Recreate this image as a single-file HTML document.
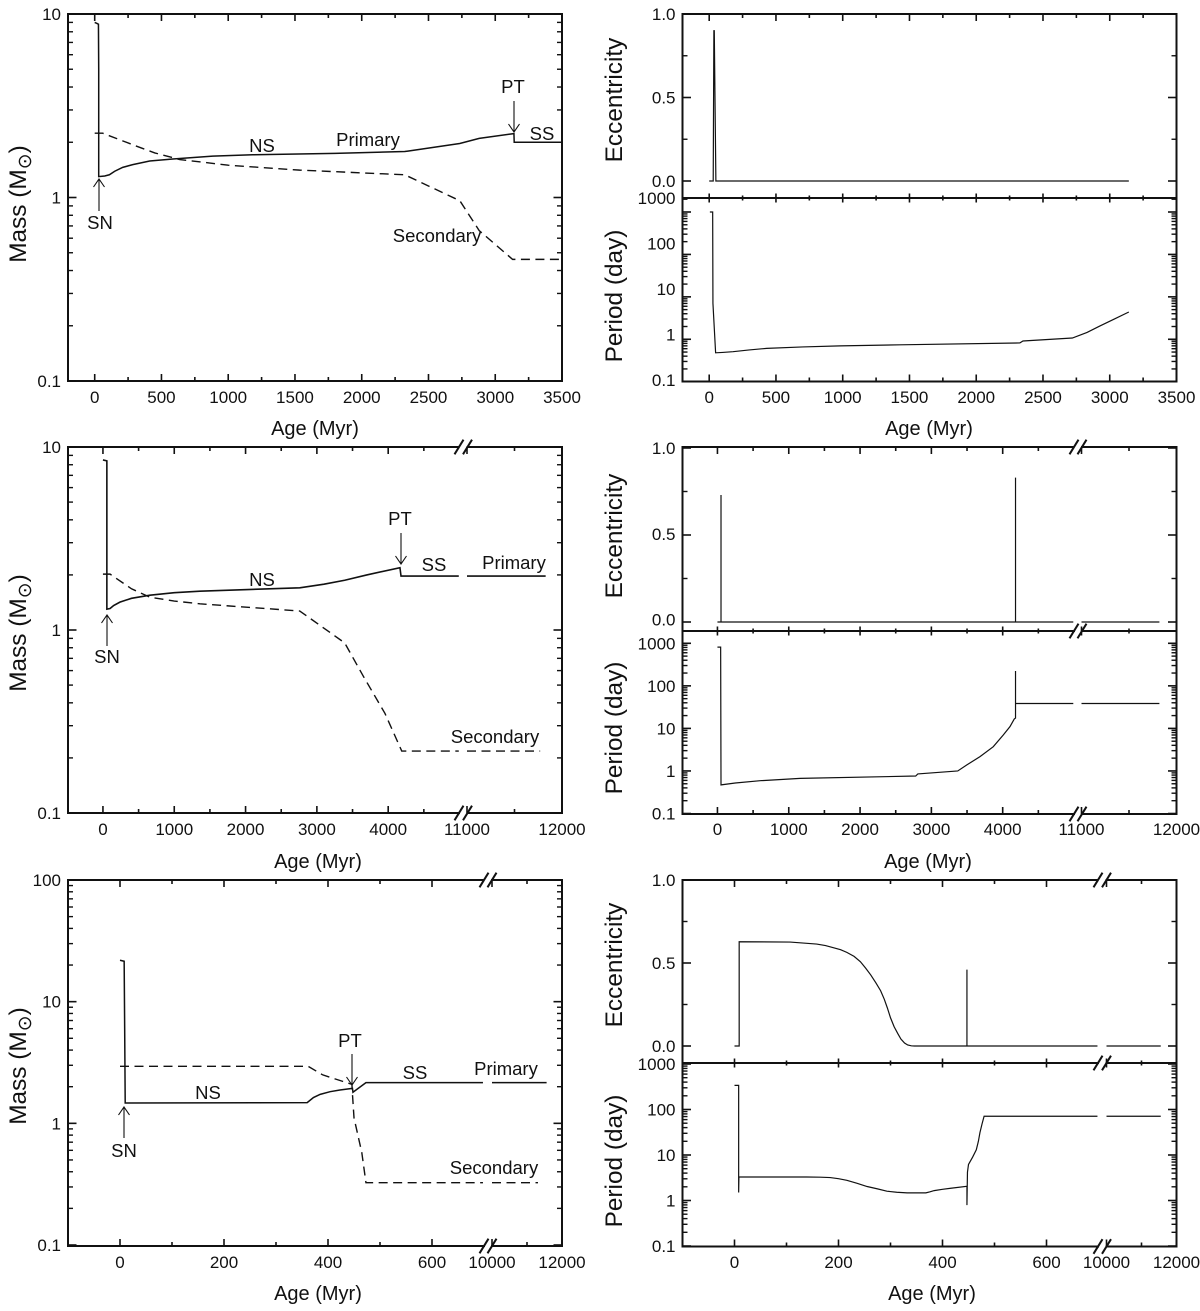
<!DOCTYPE html>
<html lang="en">
<head>
<meta charset="utf-8">
<title>Binary evolution tracks</title>
<style>
html,body{margin:0;padding:0;background:#fff;}
#chart{display:block;width:1200px;height:1311px;}
text{font-family:"Liberation Sans",Arial,sans-serif;fill:#111;}
.tick{font-size:17px;}
.title{font-size:20px;}
.ylab{font-size:24.4px;}
.note{font-size:18.5px;}
.arrow{fill:none;stroke:#111;stroke-width:1.1;}
</style>
</head>
<body>
<svg id="chart" xmlns="http://www.w3.org/2000/svg" width="1200" height="1311" viewBox="0 0 1200 1311">
  <rect width="1200" height="1311" fill="#fff"/>
  <g id="plots"></g>

  <g>
    <text class="ylab" text-anchor="middle" transform="translate(26,204) rotate(-90)">Mass (M<tspan dy="5" font-size="19" font-family="DejaVu Sans">⊙</tspan><tspan dy="-5">)</tspan></text>
    <text class="ylab" text-anchor="middle" transform="translate(26,633) rotate(-90)">Mass (M<tspan dy="5" font-size="19" font-family="DejaVu Sans">⊙</tspan><tspan dy="-5">)</tspan></text>
    <text class="ylab" text-anchor="middle" transform="translate(26,1066) rotate(-90)">Mass (M<tspan dy="5" font-size="19" font-family="DejaVu Sans">⊙</tspan><tspan dy="-5">)</tspan></text>
    <text class="ylab" text-anchor="middle" transform="translate(622,100) rotate(-90)">Eccentricity</text>
    <text class="ylab" text-anchor="middle" transform="translate(622,296) rotate(-90)">Period (day)</text>
    <text class="ylab" text-anchor="middle" transform="translate(622,536) rotate(-90)">Eccentricity</text>
    <text class="ylab" text-anchor="middle" transform="translate(622,728) rotate(-90)">Period (day)</text>
    <text class="ylab" text-anchor="middle" transform="translate(622,965) rotate(-90)">Eccentricity</text>
    <text class="ylab" text-anchor="middle" transform="translate(622,1161) rotate(-90)">Period (day)</text>
  </g>

  <g text-anchor="middle">
    <text class="title" x="315" y="435">Age (Myr)</text>
    <text class="title" x="929" y="435">Age (Myr)</text>
    <text class="title" x="318" y="868">Age (Myr)</text>
    <text class="title" x="928" y="868">Age (Myr)</text>
    <text class="title" x="318" y="1300">Age (Myr)</text>
    <text class="title" x="932" y="1300">Age (Myr)</text>
  </g>

  <g text-anchor="middle">
    <text class="note" x="100" y="229">SN</text>
    <text class="note" x="262" y="152">NS</text>
    <text class="note" x="368" y="146">Primary</text>
    <text class="note" x="542" y="140">SS</text>
    <text class="note" x="513" y="93">PT</text>
    <text class="note" x="437" y="242">Secondary</text>
    <path class="arrow" d="M99 211V179M93.5 187L99 179L104.5 187"/>
    <path class="arrow" d="M514 101V132M508.5 124L514 132L519.5 124"/>
  </g>
  <g text-anchor="middle">
    <text class="note" x="107" y="663">SN</text>
    <text class="note" x="262" y="586">NS</text>
    <text class="note" x="514" y="569">Primary</text>
    <text class="note" x="434" y="571">SS</text>
    <text class="note" x="400" y="525">PT</text>
    <text class="note" x="495" y="743">Secondary</text>
    <path class="arrow" d="M107 646V615M101.5 623L107 615L112.5 623"/>
    <path class="arrow" d="M401 533V564M395.5 556L401 564L406.5 556"/>
  </g>
  <g text-anchor="middle">
    <text class="note" x="124" y="1157">SN</text>
    <text class="note" x="208" y="1099">NS</text>
    <text class="note" x="506" y="1075">Primary</text>
    <text class="note" x="415" y="1079">SS</text>
    <text class="note" x="350" y="1047">PT</text>
    <text class="note" x="494" y="1174">Secondary</text>
    <path class="arrow" d="M124 1138V1107M118.5 1115L124 1107L129.5 1115"/>
    <path class="arrow" d="M352 1054V1085M346.5 1077L352 1085L357.5 1077"/>
  </g>
</svg>

<script>
// ---- Tick values ----
const ageMajorA = [0, 500, 1000, 1500, 2000, 2500, 3000, 3500];
const ageMinorA = [250, 750, 1250, 1750, 2250, 2750, 3250];
const ageMajorB = [0, 1000, 2000, 3000, 4000, 11000, 12000];
const ageMinorB = [500, 1500, 2500, 3500, 4500, 11500];
const ageMajorC = [0, 200, 400, 600, 10000, 12000];
const ageMinorC = [100, 300, 500, 11000];
const massMajorAB = [0.1, 1, 10];
const massMajorC = [0.1, 1, 10, 100];
const periodMajor = [0.1, 1, 10, 100, 1000];
const logMultiples = [2, 3, 4, 5, 6, 7, 8, 9];
const eccMajor = [0, 0.5, 1];
const eccMinor = [0.25, 0.75];

// ---- Top row series (null marks an axis break) ----
const massAgeTopPrimary = [0, 15, 28, 30, 30, 75, 110, 150, 210, 285, 412, 585, 884, 1184, 1800, 2322, 2345, 2734, 2880, 3140, 3142, 3500];
const massTopPrimary = [9.0, 8.9, 8.8, 5.0, 1.3, 1.31, 1.33, 1.39, 1.46, 1.51, 1.58, 1.62, 1.68, 1.71, 1.74, 1.78, 1.79, 1.97, 2.1, 2.23, 2.0, 2.0];
const massAgeTopSecondary = [0, 60, 300, 450, 637, 1000, 1535, 2322, 2735, 2880, 3130, 3500];
const massTopSecondary = [2.24, 2.24, 1.92, 1.75, 1.61, 1.5, 1.41, 1.33, 0.96, 0.66, 0.46, 0.46];
const eccAgeTop = [0, 30, 35, 38, 50, 3143];
const eccTop = [0, 0, 0.9, 0.9, 0, 0];
const periodAgeTop = [5, 26, 28, 48, 100, 178, 300, 430, 700, 980, 1430, 2327, 2350, 2720, 2830, 2925, 3030, 3143];
const periodTop = [1000, 1000, 7, 0.48, 0.49, 0.51, 0.56, 0.61, 0.66, 0.7, 0.74, 0.82, 0.91, 1.07, 1.45, 2.05, 2.95, 4.4];

// ---- Middle row series ----
const massAgeMidPrimary = [0, 55, 55, 100, 150, 238, 400, 660, 1000, 1360, 2760, 3100, 3390, 3700, 4165, 4180, 4990, null, 11000, 11828];
const massMidPrimary = [8.5, 8.4, 1.3, 1.31, 1.36, 1.42, 1.49, 1.55, 1.6, 1.63, 1.7, 1.78, 1.87, 2.0, 2.19, 1.97, 1.97, null, 1.97, 1.97];
const massAgeMidSecondary = [0, 100, 400, 660, 1000, 1360, 2760, 3390, 3650, 3955, 4190, 4990, null, 11000, 11770];
const massMidSecondary = [2.02, 2.02, 1.68, 1.51, 1.44, 1.39, 1.27, 0.85, 0.56, 0.35, 0.218, 0.218, null, 0.218, 0.218];
const eccAgeMid = [0, 50, 50, 50, 4180, 4180, 4180, 4990, null, 11000, 11820];
const eccMid = [0, 0, 0.73, 0, 0, 0.83, 0, 0, null, 0, 0];
const periodAgeMid = [0, 45, 50, 250, 600, 1160, 2780, 2810, 3370, 3495, 3682, 3868, 4008, 4102, 4163, 4180, 4180, 4180, 4990, null, 11000, 11820];
const periodMid = [813, 813, 0.47, 0.52, 0.59, 0.67, 0.76, 0.85, 1.0, 1.38, 2.17, 3.72, 7.0, 11, 16.7, 17.5, 224, 38.5, 38.5, null, 38.5, 38.5];

// ---- Bottom row series ----
const massAgeLowPrimary = [0, 8, 9, 10, 360, 372, 385, 404, 423, 447, 448, 473, 698, null, 10000, 11560];
const massLowPrimary = [21.9, 21.5, 5.9, 1.47, 1.48, 1.63, 1.73, 1.82, 1.88, 1.94, 1.8, 2.16, 2.16, null, 2.16, 2.16];
const massAgeLowSecondary = [0, 362, 390, 446, 447, 450, 465, 473, 698, null, 10000, 11314];
const massLowSecondary = [2.94, 2.94, 2.5, 2.09, 1.75, 1.11, 0.575, 0.325, 0.325, null, 0.325, 0.325];
const eccAgeLow = [0, 9, 9, 107, 158, 175, 190, 204, 216, 230, 242, 252, 262, 272, 281, 288, 294, 300, 307, 314, 320, 327, 333, 340, 346, 447, 447, 447, 698, null, 10000, 11550];
const eccLow = [0, 0, 0.628, 0.626, 0.614, 0.605, 0.592, 0.58, 0.564, 0.54, 0.508, 0.47, 0.428, 0.38, 0.333, 0.282, 0.229, 0.17, 0.116, 0.075, 0.042, 0.018, 0.006, 0.001, 0, 0, 0.46, 0, 0, null, 0, 0];
const periodAgeLow = [0, 8, 8, 8.5, 139, 165, 184, 200, 216, 235, 255, 275, 293, 312, 332, 368, 376, 384, 400, 416, 447, 447, 448, 450, 458, 465, 469, 472, 476, 480, 698, null, 10000, 11550];
const periodLow = [339, 339, 1.5, 3.29, 3.29, 3.25, 3.19, 3.02, 2.78, 2.4, 2.03, 1.8, 1.6, 1.52, 1.47, 1.47, 1.55, 1.65, 1.76, 1.86, 2.05, 0.79, 4.2, 6.2, 9, 13, 20, 31, 48, 71, 71, null, 71, 71];

// ---- Helpers ----
const SVG_NS = 'http://www.w3.org/2000/svg';
const root = document.getElementById('plots');

function shape(tag, attrs, parent) {
  const el = document.createElementNS(SVG_NS, tag);
  for (const key in attrs) el.setAttribute(key, attrs[key]);
  parent.appendChild(el);
  return el;
}
function ageAxis(segments, offset) {
  return function (v) {
    for (const s of segments) {
      if (v <= s[1]) return offset + s[2] + (v - s[0]) * (s[3] - s[2]) / (s[1] - s[0]);
    }
    const last = segments[segments.length - 1];
    return offset + last[3];
  };
}
function logAxis(vA, yA, vB, yB) {
  const k = (yB - yA) / (Math.log10(vB) - Math.log10(vA));
  return v => yA + (Math.log10(v) - Math.log10(vA)) * k;
}
function linearAxis(vA, yA, vB, yB) {
  return v => yA + (v - vA) * (yB - yA) / (vB - vA);
}
function trace(ages, values, xf, yf) {
  let d = '';
  let pen = false;
  for (let i = 0; i < ages.length; i++) {
    if (ages[i] === null) { pen = false; continue; }
    d += (pen ? 'L' : 'M') + xf(ages[i]).toFixed(2) + ' ' + yf(values[i]).toFixed(2);
    pen = true;
  }
  return d;
}
function drawSeries(parent, name, ages, values, xf, yf, width, dashed) {
  const path = shape('path', { d: trace(ages, values, xf, yf), fill: 'none', stroke: '#111', 'stroke-width': width, 'stroke-linejoin': 'miter', 'stroke-miterlimit': 20 }, parent);
  if (dashed) path.setAttribute('stroke-dasharray', '9 5.5');
  
  
}
function drawLabel(parent, name, x, y, anchor, content) {
  const t = shape('text', { x: x, y: y + 6, 'text-anchor': anchor, class: 'tick' }, parent);
  t.textContent = content;
  
  
}
function drawTick(parent, name, x1, y1, x2, y2, w) {
  const l = shape('line', { x1: x1, y1: y1, x2: x2, y2: y2, stroke: '#111', 'stroke-width': w }, parent);
  
  
}

// Frame, ticks and labels for one panel.
function drawPanel(p) {
  const g = shape('g', {}, root);
  
  

  const L = p.left, R = p.right, T = p.top, B = p.bottom;
  const hSpans = p.gap ? [[L, p.gap[0]], [p.gap[1], R]] : [[L, R]];
  for (const span of hSpans) {
    drawTick(g, 'top-axis-line', span[0] - 1, T, span[1], T, 2);
    drawTick(g, 'bottom-axis-line', span[0] - 1, B, span[1] + 1, B, 2);
  }
  drawTick(g, 'left-axis-line', L, T - 1, L, B + 1, 2);
  drawTick(g, 'right-axis-line', R, T - 1, R, B + 1, 2);

  // x ticks on both horizontal edges
  const topMaj = p.jointTop ? 4.5 : 7, topMin = p.jointTop ? 2.5 : 4;
  const botMaj = p.jointBottom ? 4.5 : 7, botMin = p.jointBottom ? 2.5 : 4;
  for (const v of p.xMajor) {
    const x = p.x(v);
    drawTick(g, 'x-major-tick-top', x, T, x, T + topMaj, 1.6);
    drawTick(g, 'x-major-tick-bottom', x, B, x, B - botMaj, 1.6);
    if (p.xLabels) drawLabel(g, 'x-tick-label', x, p.labelY, 'middle', String(v));
  }
  for (const v of p.xMinor) {
    const x = p.x(v);
    drawTick(g, 'x-minor-tick-top', x, T, x, T + topMin, 1.6);
    drawTick(g, 'x-minor-tick-bottom', x, B, x, B - botMin, 1.6);
  }

  // y ticks on both vertical edges
  for (const v of p.yMajor) {
    const y = p.y(v);
    drawTick(g, 'y-major-tick-left', L, y, L + 8.5, y, 1.6);
    drawTick(g, 'y-major-tick-right', R, y, R - 8.5, y, 1.6);
    const ly = p.yLabelAt ? p.yLabelAt(v) : y;
    drawLabel(g, 'y-tick-label', L - 7, ly, 'end', p.yFormat ? p.yFormat(v) : String(v));
  }
  for (const v of p.yMinor) {
    const y = p.y(v);
    if (y < T + 0.5 || y > B - 0.5) continue;
    drawTick(g, 'y-minor-tick-left', L, y, L + 5, y, 1.4);
    drawTick(g, 'y-minor-tick-right', R, y, R - 5, y, 1.4);
  }

  // Axis-break slashes
  if (p.slashes) {
    for (const edge of p.slashEdges) {
      for (const sx of p.slashes) {
        drawTick(g, 'axis-break-slash', sx - 4.5, edge + 7.3, sx + 4.5, edge - 7.3, 2);
      }
    }
  }
  return g;
}
function logMinors(from, upto) {
  const out = [];
  for (let d = from; d <= upto; d *= 10) {
    for (const m of logMultiples) out.push(d * m);
  }
  return out;
}

// ---- Axes ----
const segA = [[-200, 3500, 68, 562]];
const segB = [[-490, 5000, 68, 459.5], [11000, 12000, 467, 562]];
const segC = [[-100, 700, 68, 484], [10000, 12000, 492, 562]];
const RIGHT = 614.5;

const xLA = ageAxis(segA, 0), xRA = ageAxis(segA, RIGHT);
const xLB = ageAxis(segB, 0), xRB = ageAxis(segB, RIGHT);
const xLC = ageAxis(segC, 0), xRC = ageAxis(segC, RIGHT);

const yMassA = logAxis(10, 14, 0.1, 381);
const yMassB = logAxis(10, 447, 0.1, 813);
const yMassC = logAxis(100, 880, 0.1, 1245);
const yEccA = linearAxis(1, 14, 0, 181);
const yEccB = linearAxis(1, 448, 0, 622);
const yEccBLabel = linearAxis(1, 448, 0, 619.5);
const yEccC = linearAxis(1, 880, 0, 1046);
const yPerA = logAxis(1000, 212, 0.1, 381.7);
const yPerALabel = logAxis(1000, 198, 0.1, 380);
const yPerB = logAxis(1000, 643.3, 0.1, 813.5);
const yPerC = logAxis(1000, 1064, 0.1, 1246);

const fmtEcc = v => v.toFixed(1);
const leftEdge = 68, leftEnd = 562, rightEdge = 682.5, rightEnd = 1176.5;

// ---- Top row ----
const pTopMass = drawPanel({ name: 'mass-panel-top', left: leftEdge, right: leftEnd, top: 14, bottom: 381, x: xLA, y: yMassA, xMajor: ageMajorA, xMinor: ageMinorA, xLabels: true, labelY: 397, yMajor: massMajorAB, yMinor: logMinors(0.1, 1) });
drawSeries(pTopMass, 'primary-mass-line', massAgeTopPrimary, massTopPrimary, xLA, yMassA, 1.5, false);
drawSeries(pTopMass, 'secondary-mass-line', massAgeTopSecondary, massTopSecondary, xLA, yMassA, 1.4, true);

const pTopEcc = drawPanel({ name: 'eccentricity-panel-top', left: rightEdge, right: rightEnd, top: 14, bottom: 198, x: xRA, y: yEccA, xMajor: ageMajorA, xMinor: ageMinorA, xLabels: false, jointBottom: true, yMajor: eccMajor, yMinor: eccMinor, yFormat: fmtEcc });
drawSeries(pTopEcc, 'eccentricity-line', eccAgeTop, eccTop, xRA, yEccA, 1.2, false);

const pTopPer = drawPanel({ name: 'period-panel-top', left: rightEdge, right: rightEnd, top: 198, bottom: 381.5, x: xRA, y: yPerA, xMajor: ageMajorA, xMinor: ageMinorA, xLabels: true, labelY: 397, jointTop: true, yMajor: periodMajor, yMinor: logMinors(0.1, 1000), yLabelAt: yPerALabel });
drawSeries(pTopPer, 'period-line', periodAgeTop, periodTop, xRA, yPerA, 1.2, false);

// ---- Middle row ----
const pMidMass = drawPanel({ name: 'mass-panel-middle', left: leftEdge, right: leftEnd, top: 447, bottom: 813, gap: [459, 467.5], slashes: [459, 467.5], slashEdges: [447, 813], x: xLB, y: yMassB, xMajor: ageMajorB, xMinor: ageMinorB, xLabels: true, labelY: 829, yMajor: massMajorAB, yMinor: logMinors(0.1, 1) });
drawSeries(pMidMass, 'primary-mass-line', massAgeMidPrimary, massMidPrimary, xLB, yMassB, 1.6, false);
drawSeries(pMidMass, 'secondary-mass-line', massAgeMidSecondary, massMidSecondary, xLB, yMassB, 1.4, true);

const pMidEcc = drawPanel({ name: 'eccentricity-panel-middle', left: rightEdge, right: rightEnd, top: 447, bottom: 631, gap: [1074, 1082], slashes: [1074, 1082], slashEdges: [447, 631], x: xRB, y: yEccB, xMajor: ageMajorB, xMinor: ageMinorB, xLabels: false, jointBottom: true, yMajor: eccMajor, yMinor: eccMinor, yFormat: fmtEcc, yLabelAt: yEccBLabel });
drawSeries(pMidEcc, 'eccentricity-line', eccAgeMid, eccMid, xRB, yEccB, 1.2, false);

const pMidPer = drawPanel({ name: 'period-panel-middle', left: rightEdge, right: rightEnd, top: 631, bottom: 814, gap: [1074, 1082], slashes: [1074, 1082], slashEdges: [814], x: xRB, y: yPerB, xMajor: ageMajorB, xMinor: ageMinorB, xLabels: true, labelY: 829, jointTop: true, yMajor: periodMajor, yMinor: logMinors(0.1, 1000) });
drawSeries(pMidPer, 'period-line', periodAgeMid, periodMid, xRB, yPerB, 1.2, false);

// ---- Bottom row ----
const pLowMass = drawPanel({ name: 'mass-panel-bottom', left: leftEdge, right: leftEnd, top: 880, bottom: 1246, gap: [484, 492], slashes: [484, 492], slashEdges: [880, 1246], x: xLC, y: yMassC, xMajor: ageMajorC, xMinor: ageMinorC, xLabels: true, labelY: 1262, yMajor: massMajorC, yMinor: logMinors(0.1, 10) });
drawSeries(pLowMass, 'primary-mass-line', massAgeLowPrimary, massLowPrimary, xLC, yMassC, 1.5, false);
drawSeries(pLowMass, 'secondary-mass-line', massAgeLowSecondary, massLowSecondary, xLC, yMassC, 1.4, true);

const pLowEcc = drawPanel({ name: 'eccentricity-panel-bottom', left: rightEdge, right: rightEnd, top: 880, bottom: 1063, gap: [1098, 1106.5], slashes: [1098, 1106.5], slashEdges: [880, 1063], x: xRC, y: yEccC, xMajor: ageMajorC, xMinor: ageMinorC, xLabels: false, jointBottom: true, yMajor: eccMajor, yMinor: eccMinor, yFormat: fmtEcc });
drawSeries(pLowEcc, 'eccentricity-line', eccAgeLow, eccLow, xRC, yEccC, 1.2, false);

const pLowPer = drawPanel({ name: 'period-panel-bottom', left: rightEdge, right: rightEnd, top: 1063, bottom: 1246.5, gap: [1098, 1106.5], slashes: [1098, 1106.5], slashEdges: [1246.5], x: xRC, y: yPerC, xMajor: ageMajorC, xMinor: ageMinorC, xLabels: true, labelY: 1262, jointTop: true, yMajor: periodMajor, yMinor: logMinors(0.1, 100) });
drawSeries(pLowPer, 'period-line', periodAgeLow, periodLow, xRC, yPerC, 1.2, false);
</script>
</body>
</html>
